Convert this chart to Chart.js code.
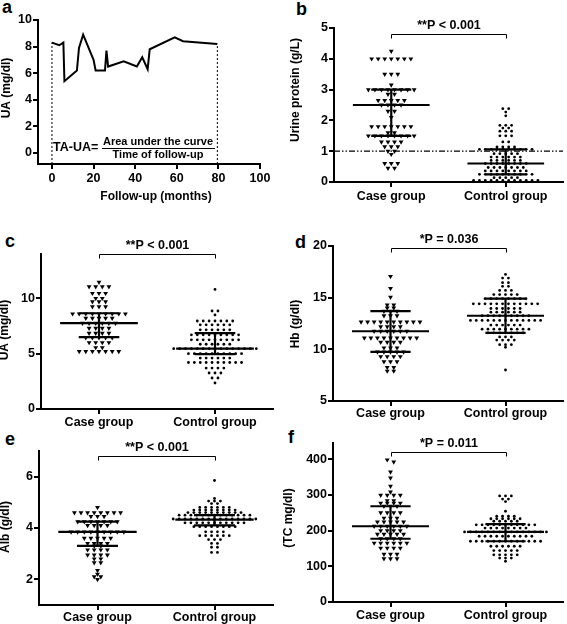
<!DOCTYPE html>
<html>
<head>
<meta charset="utf-8">
<script src="https://cdn.jsdelivr.net/npm/chart.js@4.4.0/dist/chart.umd.min.js"></script>
<style>
  body { margin: 0; background: #fff; width: 567px; height: 624px; position: relative; overflow: hidden; font-family: "Liberation Sans", Arial, sans-serif; }
  canvas { position: absolute; }
  .lab { position: absolute; font-weight: bold; font-size: 18px; line-height: 1; }
</style>
</head>
<body>
<div class="lab" style="left:2px;top:-2px">a</div>
<div class="lab" style="left:296px;top:0px">b</div>
<div class="lab" style="left:5px;top:232px">c</div>
<div class="lab" style="left:295px;top:233px">d</div>
<div class="lab" style="left:5px;top:430px">e</div>
<div class="lab" style="left:288px;top:428px">f</div>
<canvas id="pa"></canvas>
<canvas id="pb"></canvas>
<canvas id="pc"></canvas>
<canvas id="pd"></canvas>
<canvas id="pe"></canvas>
<canvas id="pf"></canvas>
<script>
// ---- data ----
const groups = ['Case group', 'Control group'];

// a: UA during follow-up
const followUp = [0, 3.5, 5.5, 6, 12, 13, 15, 20, 21, 25.5, 26.2, 27, 34.5, 40.8, 43.4, 46, 47, 59, 63, 79.5];
const uaCourse = [8.3, 8.1, 8.3, 5.4, 6.2, 7.9, 8.9, 7.0, 6.2, 6.2, 7.7, 6.5, 6.9, 6.5, 7.2, 6.3, 7.8, 8.7, 8.4, 8.2];
const aXTicks = [0, 20, 40, 60, 80, 100];
const aYTicks = [0, 2, 4, 6, 8, 10];

// b: urine protein (g/L)
const urineCase = [4.25,
  4, 4, 4, 4, 4, 4, 4,
  3.5, 3.5, 3.5,
  3.15,
  3, 3, 3, 3, 3, 3, 3, 3,
  2.85, 2.85,
  2.65, 2.65, 2.65, 2.65, 2.65,
  2.5, 2.5, 2.5, 2.5,
  2.3, 2.3,
  2.1,
  1.8, 1.8, 1.8, 1.8, 1.8, 1.8, 1.8,
  1.6, 1.6,
  1.5, 1.5, 1.5, 1.5, 1.5, 1.5, 1.5, 1.5,
  1.3, 1.3, 1.3, 1.3,
  1.15, 1.15, 1.15,
  1, 1,
  0.9,
  0.6, 0.6, 0.6,
  0.45, 0.45];
const urineControl = [2.38, 2.38, 2.27, 2.15,
  1.84, 1.84, 1.84, 1.75, 1.75, 1.65, 1.65, 1.65, 1.5, 1.5, 1.5, 1.3, 1.3,
  1.14, 1.14, 1.14, 1.14,
  1.06, 1.06, 1.06, 1.06, 1.06, 1.06, 1.06, 1.06, 1.06, 1.06,
  0.92, 0.92, 0.92, 0.92, 0.92,
  0.81, 0.81, 0.81, 0.81, 0.81, 0.81,
  0.7, 0.7, 0.7, 0.7, 0.7, 0.7,
  0.6, 0.6, 0.6, 0.6, 0.6, 0.6, 0.6, 0.6,
  0.47, 0.47, 0.47, 0.47, 0.47, 0.47, 0.47,
  0.36, 0.36, 0.36, 0.36, 0.36, 0.36, 0.36, 0.36,
  0.25, 0.25, 0.25, 0.25, 0.25, 0.25, 0.25, 0.25, 0.25, 0.25,
  0.14, 0.14, 0.14, 0.14, 0.14,
  0.05, 0.05, 0.05, 0.05, 0.05, 0.05, 0.05, 0.05, 0.05, 0.05, 0.05, 0.05];
const urineBars = [[2.5, 3.0, 1.5], [0.6, 1.06, 0.25]]; // middle, upper, lower
const urineCut = 1;
const urineTicks = [0, 1, 2, 3, 4, 5];

// c: UA (mg/dl)
const uaCase = [11.45,
  11.05, 11.05, 11.05, 11.05,
  10.45, 10.45, 10.45,
  10, 10,
  9.7, 9.7, 9.7,
  9.25, 9.25, 9.25,
  8.6, 8.6, 8.6, 8.6, 8.6, 8.6, 8.6, 8.6, 8.6,
  8.2, 8.2, 8.2, 8.2, 8.2,
  7.75, 7.75, 7.75, 7.75, 7.75, 7.75,
  7.3, 7.3, 7.3, 7.3,
  6.85, 6.85, 6.85, 6.85,
  6.45, 6.45, 6.45, 6.45, 6.45,
  6, 6, 6, 6,
  5.55, 5.55,
  5.2, 5.2, 5.2, 5.2, 5.2, 5.2, 5.2];
const uaControl = [10.8, 8.85, 8.85, 8.5,
  7.95, 7.95, 7.95, 7.95, 7.95, 7.95, 7.95,
  7.6, 7.6, 7.6, 7.6, 7.6, 7.6,
  7.15, 7.15, 7.15, 7.15, 7.15, 7.15,
  6.7, 6.7, 6.7, 6.7, 6.7, 6.7, 6.7, 6.7, 6.7,
  6.25, 6.25, 6.25, 6.25, 6.25, 6.25, 6.25, 6.25, 6.25,
  5.85, 5.85, 5.85, 5.85, 5.85, 5.85,
  5.45, 5.45, 5.45, 5.45, 5.45, 5.45, 5.45, 5.45, 5.45, 5.45, 5.45, 5.45, 5.45, 5.45, 5.45,
  5, 5, 5, 5, 5, 5, 5, 5, 5, 5,
  4.6, 4.6, 4.6, 4.6, 4.6, 4.6,
  4.2, 4.2, 4.2, 4.2, 4.2, 4.2, 4.2, 4.2, 4.2, 4.2,
  3.7, 3.7, 3.7, 3.7,
  3.25, 3.25, 3.25,
  2.8, 2.8,
  2.35];
const uaBars = [[7.75, 8.65, 6.5], [5.45, 6.85, 4.95]];
const uaTicks = [0, 5, 10];

// d: Hb (g/dl)
const hbCase = [17.05, 15.9, 15.05,
  14.3, 14.3, 14, 14,
  13.7, 13.7, 13.7,
  13.25, 13.25, 13.25,
  12.65, 12.65, 12.65, 12.65, 12.65, 12.65, 12.65, 12.65, 12.65, 12.65,
  12.2, 12.2, 12.2, 12.2,
  11.75, 11.75, 11.75, 11.75, 11.75, 11.75,
  11.1, 11.1, 11.1, 11.1, 11.1, 11.1, 11.1, 11.1, 11.1,
  10.7, 10.7, 10.7, 10.7,
  10.15, 10.15, 10.15,
  9.75, 9.75, 9.75, 9.75, 9.75,
  9.3, 9.3, 9.3, 9.3,
  8.8, 8.8, 8.8,
  8.25, 8.25,
  7.9, 7.9];
const hbControl = [17.25, 16.9, 16.9, 16.45, 16.45, 16.1, 16.1,
  15.7, 15.7, 15.7,
  15.3, 15.3, 15.3, 15.3, 15.3,
  14.9, 14.9, 14.9, 14.9, 14.9, 14.9, 14.9, 14.9,
  14.4, 14.4, 14.4, 14.4, 14.4, 14.4, 14.4, 14.4, 14.4, 14.4, 14.4, 14.4,
  13.95, 13.95, 13.95, 13.95, 13.95, 13.95,
  13.6, 13.6, 13.6, 13.6, 13.6, 13.6,
  13.25, 13.25, 13.25, 13.25, 13.25, 13.25, 13.25, 13.25, 13.25,
  12.8, 12.8, 12.8, 12.8, 12.8, 12.8, 12.8, 12.8, 12.8, 12.8, 12.8, 12.8, 12.8,
  12.35, 12.35, 12.35, 12.35, 12.35, 12.35,
  11.95, 11.95, 11.95, 11.95, 11.95, 11.95, 11.95, 11.95, 11.95,
  11.6, 11.6, 11.6, 11.6, 11.6, 11.6, 11.6,
  11.2, 11.2, 11.2,
  10.9, 10.9, 10.9, 10.9,
  10.45, 10.45, 10.45,
  10.2, 8];
const hbBars = [[11.75, 13.7, 9.75], [13.25, 14.9, 11.6]];
const hbTicks = [5, 10, 15, 20];

// e: Alb (g/dl)
const albCase = [4.8,
  4.6, 4.6, 4.6, 4.6, 4.6, 4.6, 4.6, 4.6,
  4.45, 4.45, 4.45,
  4.25, 4.25, 4.25, 4.25, 4.25, 4.25, 4.25,
  4.1, 4.1, 4.1, 4.1,
  3.85, 3.85, 3.85, 3.85, 3.85, 3.85, 3.85, 3.85, 3.85,
  3.6, 3.6, 3.6, 3.6, 3.6,
  3.4, 3.4, 3.4, 3.4,
  3.3, 3.3,
  3.15, 3.15, 3.15, 3.15,
  2.95, 2.95, 2.95, 2.95,
  2.8, 2.8, 2.65, 2.65,
  2.35, 2.2, 2.1, 2.1, 2];
const albControl = [5.85, 5.15, 5.05, 5.05, 5.05, 4.95, 4.95,
  4.8, 4.8, 4.8, 4.8, 4.8, 4.8,
  4.7, 4.7, 4.7, 4.7, 4.7, 4.7, 4.7, 4.7,
  4.6, 4.6, 4.6, 4.6, 4.6, 4.6, 4.6, 4.6, 4.6, 4.6,
  4.5, 4.5, 4.5, 4.5, 4.5, 4.5, 4.5, 4.5, 4.5, 4.5, 4.5, 4.5, 4.5,
  4.35, 4.35, 4.35, 4.35, 4.35, 4.35, 4.35, 4.35, 4.35, 4.35, 4.35, 4.35, 4.35, 4.35, 4.35,
  4.2, 4.2, 4.2, 4.2, 4.2, 4.2, 4.2, 4.2, 4.2, 4.2, 4.2,
  4.05, 4.05, 4.05, 4.05, 4.05, 4.05, 4.05, 4.05,
  3.85, 3.85, 3.85, 3.85,
  3.7, 3.7, 3.7, 3.7, 3.7, 3.7,
  3.55, 3.55, 3.55,
  3.4, 3.4, 3.25, 3.25, 3.05, 3.05];
const albBars = [[3.85, 4.25, 3.3], [4.33, 4.5, 4.1]];
const albTicks = [2, 4, 6];

// f: TC (mg/dl)
const tcCase = [398, 392, 364, 347, 324, 308,
  299, 299, 299, 299,
  284, 284,
  277, 277, 277, 277,
  268, 268, 268,
  250, 250, 250, 250,
  235, 235, 235,
  224, 224, 224, 224, 224,
  212, 212, 212, 212, 212, 212,
  200, 200, 200, 200,
  190, 190, 190, 190, 190,
  177, 177, 177, 177,
  165, 165, 165, 165, 165, 165,
  151, 151, 151, 151,
  134, 134, 134,
  121, 121, 121];
const tcControl = [297, 297, 297, 288, 288, 281, 254,
  240, 240, 240, 240,
  233, 233, 233, 233, 233, 233,
  226, 226, 226, 226, 226,
  216, 216, 216, 216, 216, 216, 216, 216, 216, 216, 216,
  207, 207, 207, 207, 207, 207, 207, 207,
  196, 196, 196, 196, 196, 196, 196, 196, 196, 196, 196, 196, 196, 196, 196,
  184, 184, 184, 184, 184, 184, 184, 184, 184, 184,
  170, 170, 170, 170, 170, 170, 170, 170, 170, 170, 170, 170, 170,
  156, 156, 156, 156, 156, 156,
  144, 144, 144, 144, 144,
  132, 132, 132, 132, 132,
  123, 123, 123,
  114];
const tcBars = [[212, 268, 177], [196, 218, 170]];
const tcTicks = [0, 100, 200, 300, 400];

const pLabels = ['**P < 0.001', '**P < 0.001', '*P = 0.036', '**P < 0.001', '*P = 0.011'];

// ---- drawing ----
const FONT = "'Liberation Sans', Arial, sans-serif";
Chart.defaults.font.family = FONT;
Chart.defaults.color = '#000';

// GraphPad-like rows: values closer than ~2px share a row and sit side by side
function swarm(values, center, stepPx, unitPx, yPx) {
  const sorted = values.slice().sort((a, b) => b - a);
  const rows = [];
  sorted.forEach(v => {
    const row = rows[rows.length - 1];
    if (row && (row[0] - v) * yPx < 2.2) row.push(v);
    else rows.push([v]);
  });
  const pts = [];
  rows.forEach(row => {
    const n = row.length;
    row.forEach((v, i) => pts.push({ x: center + (i - (n - 1) / 2) * stepPx / unitPx, y: v }));
  });
  return pts;
}

function seg(x0, x1, y0, y1, width, dash) {
  return {
    showLine: true, data: [{ x: x0, y: y0 }, { x: x1, y: y1 }],
    borderColor: '#000', borderWidth: width || 2, borderDash: dash || [],
    pointRadius: 0, fill: false
  };
}

function barSets(stats, center) {
  const [mid, hi, lo] = stats;
  return [
    seg(center - 0.335, center + 0.335, mid, mid, 2.2),
    seg(center - 0.175, center + 0.175, hi, hi, 2.2),
    seg(center - 0.175, center + 0.175, lo, lo, 2.2),
    seg(center, center, lo, hi, 2.2)
  ];
}

function extras(p) {
  return {
    id: 'extras',
    afterDraw(chart) {
      const ctx = chart.ctx;
      const ox = p.box[0], oy = p.box[1];
      ctx.save();
      ctx.fillStyle = '#000';
      ctx.strokeStyle = '#000';
      ctx.textAlign = 'center';
      ctx.textBaseline = 'middle';
      ctx.font = 'bold 12px ' + FONT;
      if (p.yTitle) {
        ctx.save();
        ctx.translate(p.yTitle[1] - ox, p.yTitle[2] - oy);
        ctx.rotate(-Math.PI / 2);
        ctx.fillText(p.yTitle[0], 0, 0);
        ctx.restore();
      }
      if (p.xTitle) ctx.fillText(p.xTitle[0], p.xTitle[1] - ox, p.xTitle[2] - oy);
      if (p.bracket) {
        const xs = chart.scales.x, ys = chart.scales.y;
        const x0 = Math.round(xs.getPixelForValue(0.5)) + 0.5;
        const x1 = Math.round(xs.getPixelForValue(1.5)) + 0.5;
        const y = Math.round(ys.getPixelForValue(p.bracket[1])) + 0.5;
        ctx.lineWidth = 1;
        ctx.beginPath();
        ctx.moveTo(x0, y + 4); ctx.lineTo(x0, y); ctx.lineTo(x1, y); ctx.lineTo(x1, y + 4);
        ctx.stroke();
        ctx.font = 'bold 12.5px ' + FONT;
        ctx.fillText(p.bracket[0], (x0 + x1) / 2, y - 9);
      }
      if (p.note) {
        ctx.font = 'bold 12.5px ' + FONT;
        ctx.textAlign = 'left';
        ctx.fillText('TA-UA=', 53, 148);
        ctx.textAlign = 'center';
        ctx.font = 'bold 11px ' + FONT;
        ctx.fillText('Area under the curve', 158, 142);
        ctx.fillText('Time of follow-up', 158, 155);
        ctx.lineWidth = 1;
        ctx.beginPath();
        ctx.moveTo(102, 148.5); ctx.lineTo(215, 148.5);
        ctx.stroke();
      }
      ctx.restore();
    }
  };
}

function makeChart(p) {
  const cv = document.getElementById(p.id);
  const [cl, ct, cw, ch] = p.box;
  const [l, t, r, b] = p.area;
  cv.width = cw; cv.height = ch;
  cv.style.left = cl + 'px'; cv.style.top = ct + 'px';
  const tickFont = { size: 12.5, weight: 'bold' };
  const axisGrid = { drawOnChartArea: false, drawTicks: true, tickLength: 5, color: '#000', lineWidth: 2 };
  return new Chart(cv, {
    type: 'scatter',
    data: { datasets: p.datasets },
    options: {
      responsive: false, animation: false, devicePixelRatio: 1,
      layout: { padding: { left: 0, top: t - ct, right: cl + cw - r, bottom: 0 } },
      plugins: { legend: { display: false }, tooltip: { enabled: false } },
      scales: {
        x: {
          type: 'linear', min: p.x.min, max: p.x.max,
          afterBuildTicks: s => { s.ticks = p.x.ticks.map(v => ({ value: v })); },
          afterFit: s => { s.height = ct + ch - b; },
          ticks: { font: tickFont, color: '#000', padding: p.x.pad, maxRotation: 0, autoSkip: false, callback: p.x.label },
          grid: axisGrid,
          border: { color: '#000', width: 2 }
        },
        y: {
          type: 'linear', min: p.y.min, max: p.y.max,
          afterBuildTicks: s => { s.ticks = p.y.ticks.map(v => ({ value: v })); },
          afterFit: s => { s.width = l - cl; },
          ticks: { font: tickFont, color: '#000', padding: 1, autoSkip: false, callback: v => String(v) },
          grid: axisGrid,
          border: { color: '#000', width: 2 }
        }
      }
    },
    plugins: [extras(p)]
  });
}

function groupLabel(v) { return v < 1 ? groups[0] : groups[1]; }

function dotPanel(id, box, area, y, caseVals, ctrlVals, bars, pLabel, bracketY, yTitle, xPad, extra) {
  const unitPx = (area[2] - area[0]) / 2;
  const yPx = (area[3] - area[1]) / (y.max - y.min);
  const tri = {
    data: swarm(caseVals, 0.5, 6.6, unitPx, yPx), pointStyle: 'triangle', rotation: 180,
    pointRadius: 2.8, backgroundColor: '#000', borderWidth: 0
  };
  const dot = {
    data: swarm(ctrlVals, 1.5, 5.9, unitPx, yPx), pointStyle: 'circle',
    pointRadius: 1.4, backgroundColor: '#000', borderWidth: 0
  };
  const datasets = [...barSets(bars[0], 0.5), ...barSets(bars[1], 1.5)].concat(extra || [], [tri, dot]);
  return makeChart({
    id, box, area, datasets,
    x: { min: 0, max: 2, ticks: [0.5, 1.5], label: groupLabel, pad: xPad },
    y, yTitle, bracket: [pLabel, bracketY]
  });
}

// a
makeChart({
  id: 'pa', box: [0, 0, 283, 205], area: [38, 20, 260, 164],
  datasets: [
    {
      showLine: true, data: followUp.map((m, i) => ({ x: m, y: uaCourse[i] })),
      borderColor: '#000', borderWidth: 2, pointRadius: 0, tension: 0, fill: false
    },
    seg(followUp[0], followUp[0], -0.83, uaCourse[0], 1, [2, 2]),
    seg(followUp[followUp.length - 1], followUp[followUp.length - 1], -0.83, uaCourse[uaCourse.length - 1], 1, [2, 2])
  ],
  x: { min: -6.7, max: 100, ticks: aXTicks, label: v => String(v), pad: 2 },
  y: { min: -0.83, max: 10, ticks: aYTicks },
  yTitle: ['UA (mg/dl)', 7, 88],
  xTitle: ['Follow-up (months)', 156, 197],
  note: true
});

// b
dotPanel('pb', [283, 0, 284, 205], [334, 28, 565, 182], { min: 0, max: 5, ticks: urineTicks },
  urineCase, urineControl, urineBars, pLabels[0], 4.82, ['Urine protein (g/L)', 296, 90], 2,
  [seg(0, 2, urineCut, urineCut, 1.3, [6, 2, 1.5, 2, 1.5, 2])]);

// c
dotPanel('pc', [0, 205, 283, 225], [41, 254, 273, 409], { min: 0, max: 14, ticks: uaTicks },
  uaCase, uaControl, uaBars, pLabels[1], 14, ['UA (mg/dl)', 5, 330], 1);

// d
dotPanel('pd', [283, 205, 284, 220], [333, 246, 565, 401], { min: 5, max: 20, ticks: hbTicks },
  hbCase, hbControl, hbBars, pLabels[2], 19.85, ['Hb (g/dl)', 296, 324], 0);

// e
dotPanel('pe', [0, 425, 283, 199], [39, 451, 273, 605], { min: 1, max: 7, ticks: albTicks },
  albCase, albControl, albBars, pLabels[3], 6.82, ['Alb (g/dl)', 6, 527], 0);

// f
dotPanel('pf', [283, 425, 284, 199], [333, 443, 565, 602], { min: 0, max: 445, ticks: tcTicks },
  tcCase, tcControl, tcBars, pLabels[4], 420, ['(TC mg/dl)', 289, 518], 1);
</script>
</body>
</html>
